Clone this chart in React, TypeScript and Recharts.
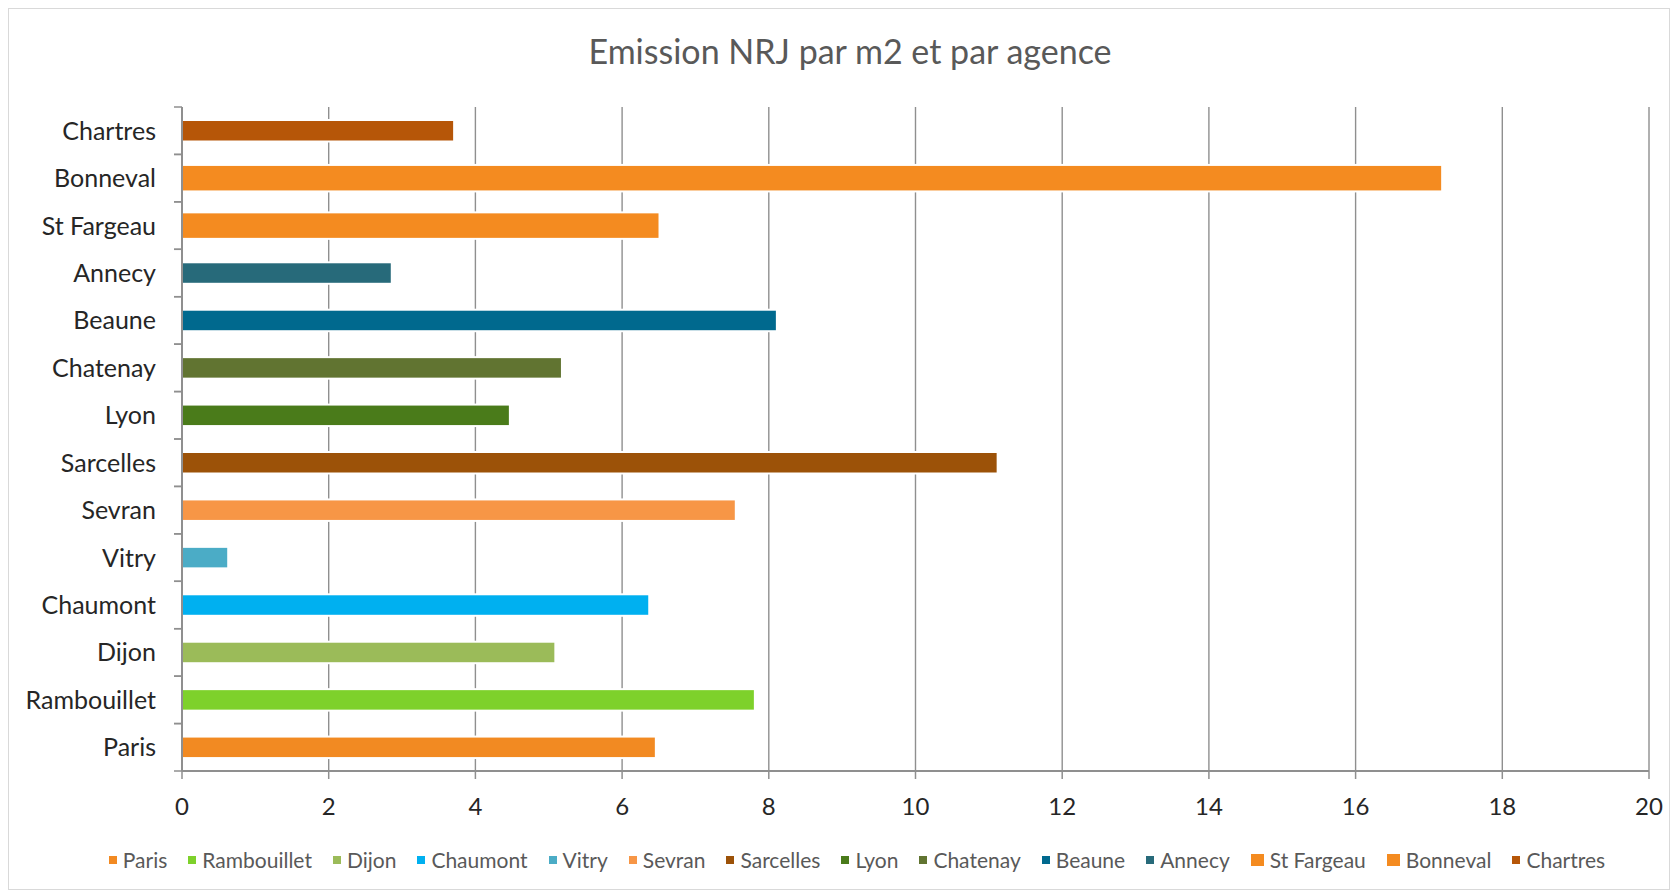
import React from 'react';
import { BarChart, Bar, Cell, XAxis, YAxis, CartesianGrid } from 'recharts';

const agencies = ['Paris', 'Rambouillet', 'Dijon', 'Chaumont', 'Vitry', 'Sevran', 'Sarcelles', 'Lyon', 'Chatenay', 'Beaune', 'Annecy', 'St Fargeau', 'Bonneval', 'Chartres'];
const emissions = [6.46, 7.81, 5.09, 6.37, 0.63, 7.55, 11.12, 4.47, 5.18, 8.11, 2.86, 6.51, 17.18, 3.71];
const colors = ['#F28A22', '#7ED12B', '#9BBB59', '#00B0F0', '#4BACC6', '#F79646', '#9C5208', '#4A7B1A', '#617431', '#00698E', '#276A7A', '#F48B20', '#F48B20', '#B65608'];
const xTicks = [0, 2, 4, 6, 8, 10, 12, 14, 16, 18, 20];

// these two are drawn a little thicker in the original
const thick = ['St Fargeau', 'Bonneval'];

const data = agencies.map((name, i) => ({ name, value: emissions[i] }));

const FONT = 'Lato, "Open Sans", sans-serif';
const GRID = '#8F8F8F';
const W = 1660;
const H = 880;
const M = { top: 98, right: 20, bottom: 58, left: 0 };
const Y_W = 173;
const X_H = 60;
const PLOT_H = H - M.top - M.bottom - X_H;
const BAND = PLOT_H / agencies.length;
const Y_TICK = 8;
const Y_GAP = 18;

const YTick = (props: any) => {
  const { x, y, payload } = props;
  const axisX = x + Y_TICK + Y_GAP;
  return (
    <g>
      <text x={x} y={y} dy="0.36em" textAnchor="end" fill="#262626" fontSize={25} fontFamily={FONT}>
        {payload.value}
      </text>
      <line x1={axisX - Y_TICK} x2={axisX} y1={y - BAND / 2} y2={y - BAND / 2} stroke={GRID} strokeWidth={1.5} />
      <line x1={axisX - Y_TICK} x2={axisX} y1={y + BAND / 2} y2={y + BAND / 2} stroke={GRID} strokeWidth={1.5} />
    </g>
  );
};

const BarShape = (props: any) => {
  const { x, y, width, height, fill, payload } = props;
  const extra = thick.includes(payload?.name) ? 5 : 0;
  return (
    <rect
      x={x}
      y={y - extra / 2}
      width={Math.max(width, 0)}
      height={height + extra}
      fill={fill}
      stroke="#fff"
      strokeWidth={2}
    />
  );
};

const Legend = () => (
  <div
    style={{
      position: 'absolute',
      top: 838,
      left: 0,
      width: W,
      paddingLeft: 36,
      boxSizing: 'border-box',
      display: 'flex',
      justifyContent: 'center',
      alignItems: 'center',
      fontFamily: FONT,
      fontSize: 21,
      color: '#595959',
      lineHeight: '26px',
      whiteSpace: 'nowrap',
    }}
  >
    {agencies.map((name, i) => {
      const big = thick.includes(name);
      return (
        <span key={name} style={{ display: 'flex', alignItems: 'center', marginRight: i === agencies.length - 1 ? 0 : 21 }}>
          <span
            style={{
              display: 'inline-block',
              width: big ? 13 : 8,
              height: big ? 12 : 8,
              background: colors[i],
              marginRight: 6,
            }}
          />
          {name}
        </span>
      );
    })}
  </div>
);

export default function App() {
  return (
    <div
      style={{
        position: 'relative',
        width: W + 2,
        height: H + 2,
        border: '1px solid #D9D9D9',
        boxSizing: 'border-box',
        background: '#fff',
      }}
    >
      <div
        style={{
          position: 'absolute',
          top: 23,
          left: 0,
          width: W,
          paddingLeft: 22,
          boxSizing: 'border-box',
          textAlign: 'center',
          fontFamily: FONT,
          fontSize: 34,
          lineHeight: '38px',
          color: '#595959',
        }}
      >
        Emission NRJ par m2 et par agence
      </div>
      <BarChart width={W} height={H} data={data} layout="vertical" margin={M} barCategoryGap={0} barSize={21.5}>
        <CartesianGrid horizontal={false} stroke={GRID} strokeWidth={1.4} />
        <Bar dataKey="value" isAnimationActive={false} shape={<BarShape />}>
          {data.map((d, i) => (
            <Cell key={d.name} fill={colors[i]} />
          ))}
        </Bar>
        <XAxis
          type="number"
          domain={[0, 20]}
          ticks={xTicks}
          height={X_H}
          axisLine={{ stroke: GRID, strokeWidth: 2 }}
          tickLine={{ stroke: GRID, strokeWidth: 1.5 }}
          tickSize={8}
          tickMargin={19}
          tick={{ fill: '#262626', fontSize: 24, fontFamily: FONT }}
        />
        <YAxis
          type="category"
          dataKey="name"
          reversed
          width={Y_W}
          axisLine={{ stroke: GRID, strokeWidth: 2 }}
          tickLine={false}
          tickSize={Y_TICK}
          tickMargin={Y_GAP}
          interval={0}
          tick={<YTick />}
        />
      </BarChart>
      <Legend />
    </div>
  );
}
